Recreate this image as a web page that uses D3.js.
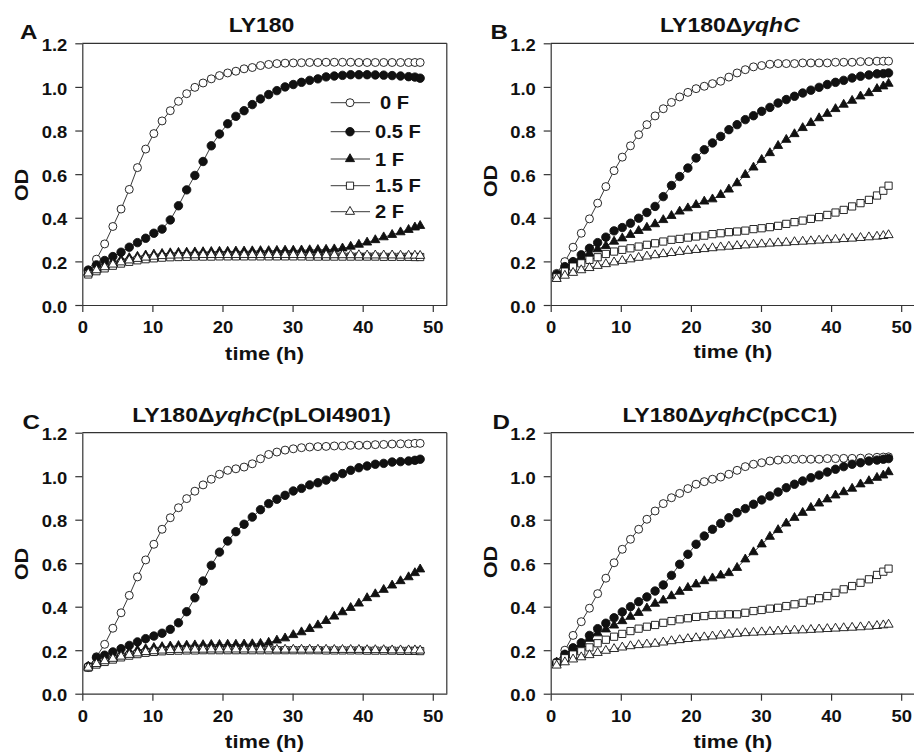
<!DOCTYPE html>
<html>
<head>
<meta charset="utf-8">
<script src="https://cdn.jsdelivr.net/npm/d3@7"></script>
<style>
body { margin: 0; background: #fff; }
text { font-family: "Liberation Sans", Arial, sans-serif; font-weight: bold; fill: #111; }
</style>
</head>
<body>
<svg width="914" height="756"></svg>
<script>
var WIDTH = 914;
var HEIGHT = 756;

// sampling times (h), same for every panel
var times = [0.85, 2.02, 3.19, 4.36, 5.53, 6.7, 7.87, 9.04, 10.21, 11.38,
	12.55, 13.72, 14.89, 16.06, 17.23, 18.4, 19.57, 20.74, 21.91, 23.08,
	24.25, 25.42, 26.59, 27.76, 28.93, 30.1, 31.27, 32.44, 33.61, 34.78,
	35.95, 37.12, 38.29, 39.46, 40.63, 41.8, 43.0, 44.2, 45.4, 46.55,
	47.45, 48.2];

var seriesNames = ['0 F', '0.5 F', '1 F', '1.5 F', '2 F'];
var xTicks = [0, 10, 20, 30, 40, 50];
var yTicks = [0, 0.2, 0.4, 0.6, 0.8, 1.0, 1.2];

// A: LY180
var A_0F = [0.16, 0.21, 0.28, 0.36, 0.44, 0.53, 0.63, 0.715, 0.786, 0.844, 0.891, 0.934, 0.969, 0.998, 1.018, 1.037, 1.052, 1.064, 1.072, 1.083, 1.089, 1.098, 1.103, 1.107, 1.109, 1.110, 1.111, 1.112, 1.112, 1.113, 1.113, 1.113, 1.113, 1.112, 1.112, 1.112, 1.112, 1.112, 1.112, 1.112, 1.112, 1.112];
var A_05F = [0.16, 0.184, 0.204, 0.222, 0.242, 0.265, 0.286, 0.306, 0.329, 0.348, 0.39, 0.455, 0.528, 0.594, 0.658, 0.73, 0.784, 0.831, 0.865, 0.891, 0.919, 0.945, 0.965, 0.983, 1.0, 1.011, 1.021, 1.03, 1.037, 1.046, 1.05, 1.053, 1.056, 1.056, 1.056, 1.055, 1.054, 1.052, 1.05, 1.047, 1.045, 1.04];
var A_1F = [0.15, 0.17, 0.186, 0.198, 0.208, 0.216, 0.222, 0.228, 0.232, 0.235, 0.238, 0.24, 0.241, 0.242, 0.243, 0.244, 0.245, 0.245, 0.246, 0.246, 0.247, 0.248, 0.248, 0.249, 0.25, 0.25, 0.251, 0.252, 0.253, 0.254, 0.256, 0.26, 0.268, 0.277, 0.287, 0.298, 0.311, 0.322, 0.334, 0.345, 0.356, 0.363];
var A_15F = [0.14, 0.155, 0.168, 0.18, 0.19, 0.198, 0.205, 0.21, 0.214, 0.217, 0.219, 0.22, 0.221, 0.222, 0.222, 0.222, 0.223, 0.223, 0.223, 0.223, 0.223, 0.223, 0.223, 0.223, 0.223, 0.223, 0.223, 0.222, 0.222, 0.222, 0.222, 0.222, 0.222, 0.222, 0.222, 0.222, 0.221, 0.221, 0.221, 0.221, 0.22, 0.22];
var A_2F = [0.145, 0.16, 0.174, 0.186, 0.196, 0.205, 0.212, 0.218, 0.222, 0.225, 0.227, 0.228, 0.229, 0.229, 0.23, 0.23, 0.23, 0.23, 0.23, 0.23, 0.23, 0.23, 0.23, 0.23, 0.23, 0.23, 0.23, 0.229, 0.229, 0.229, 0.229, 0.229, 0.229, 0.229, 0.228, 0.228, 0.228, 0.228, 0.227, 0.227, 0.227, 0.226];

// B: LY180 delta yqhC
var B_0F = [0.145, 0.199, 0.265, 0.329, 0.395, 0.467, 0.543, 0.616, 0.678, 0.73, 0.781, 0.827, 0.867, 0.9, 0.929, 0.954, 0.975, 0.992, 1.003, 1.015, 1.026, 1.045, 1.064, 1.079, 1.092, 1.098, 1.104, 1.107, 1.107, 1.107, 1.11, 1.11, 1.11, 1.11, 1.113, 1.113, 1.113, 1.116, 1.116, 1.118, 1.118, 1.118];
var B_05F = [0.14, 0.176, 0.199, 0.23, 0.26, 0.286, 0.311, 0.34, 0.355, 0.375, 0.398, 0.424, 0.452, 0.497, 0.548, 0.589, 0.628, 0.674, 0.712, 0.743, 0.773, 0.804, 0.827, 0.85, 0.868, 0.888, 0.906, 0.926, 0.942, 0.957, 0.972, 0.985, 0.998, 1.011, 1.021, 1.03, 1.041, 1.049, 1.055, 1.06, 1.061, 1.064];
var B_1F = [0.135, 0.161, 0.194, 0.218, 0.237, 0.256, 0.271, 0.291, 0.306, 0.322, 0.34, 0.355, 0.371, 0.39, 0.409, 0.429, 0.444, 0.459, 0.475, 0.485, 0.505, 0.53, 0.559, 0.597, 0.631, 0.666, 0.697, 0.73, 0.758, 0.784, 0.812, 0.835, 0.857, 0.877, 0.899, 0.919, 0.937, 0.957, 0.972, 0.991, 1.003, 1.015];
var B_15F = [0.127, 0.153, 0.176, 0.191, 0.207, 0.219, 0.234, 0.245, 0.253, 0.26, 0.268, 0.276, 0.283, 0.291, 0.299, 0.303, 0.309, 0.314, 0.318, 0.325, 0.329, 0.334, 0.337, 0.341, 0.348, 0.352, 0.357, 0.363, 0.372, 0.38, 0.387, 0.395, 0.403, 0.413, 0.424, 0.436, 0.452, 0.467, 0.482, 0.502, 0.524, 0.547];
var B_2F = [0.12, 0.135, 0.148, 0.16, 0.17, 0.18, 0.188, 0.196, 0.203, 0.21, 0.217, 0.223, 0.229, 0.234, 0.239, 0.244, 0.249, 0.253, 0.257, 0.261, 0.265, 0.268, 0.271, 0.274, 0.277, 0.279, 0.282, 0.284, 0.286, 0.289, 0.291, 0.293, 0.296, 0.298, 0.3, 0.303, 0.305, 0.308, 0.311, 0.314, 0.317, 0.321];

// C: LY180 delta yqhC (pLOI4901)
var C_0F = [0.12, 0.17, 0.227, 0.301, 0.372, 0.452, 0.537, 0.615, 0.687, 0.756, 0.809, 0.855, 0.897, 0.931, 0.96, 0.986, 1.009, 1.027, 1.034, 1.042, 1.057, 1.08, 1.1, 1.111, 1.12, 1.126, 1.131, 1.134, 1.136, 1.137, 1.139, 1.139, 1.142, 1.142, 1.143, 1.145, 1.146, 1.148, 1.149, 1.149, 1.151, 1.151];
var C_05F = [0.125, 0.166, 0.177, 0.192, 0.207, 0.222, 0.238, 0.253, 0.265, 0.278, 0.296, 0.326, 0.377, 0.441, 0.518, 0.59, 0.651, 0.702, 0.745, 0.779, 0.812, 0.846, 0.874, 0.894, 0.912, 0.932, 0.944, 0.96, 0.97, 0.982, 0.996, 1.012, 1.027, 1.039, 1.047, 1.055, 1.059, 1.065, 1.067, 1.07, 1.073, 1.078];
var C_1F = [0.125, 0.145, 0.16, 0.172, 0.183, 0.192, 0.2, 0.206, 0.211, 0.215, 0.218, 0.22, 0.222, 0.223, 0.224, 0.225, 0.225, 0.226, 0.226, 0.227, 0.228, 0.23, 0.235, 0.245, 0.255, 0.27, 0.283, 0.298, 0.315, 0.335, 0.355, 0.375, 0.395, 0.415, 0.44, 0.458, 0.478, 0.498, 0.518, 0.536, 0.555, 0.572];
var C_15F = [0.12, 0.134, 0.146, 0.157, 0.167, 0.175, 0.182, 0.188, 0.192, 0.195, 0.197, 0.198, 0.199, 0.199, 0.2, 0.2, 0.2, 0.2, 0.2, 0.2, 0.2, 0.2, 0.2, 0.2, 0.2, 0.2, 0.2, 0.2, 0.2, 0.199, 0.199, 0.199, 0.199, 0.199, 0.198, 0.198, 0.198, 0.198, 0.197, 0.197, 0.197, 0.196];
var C_2F = [0.12, 0.137, 0.15, 0.161, 0.171, 0.179, 0.186, 0.192, 0.196, 0.199, 0.201, 0.202, 0.203, 0.203, 0.203, 0.204, 0.204, 0.204, 0.204, 0.204, 0.204, 0.204, 0.204, 0.203, 0.203, 0.203, 0.203, 0.203, 0.203, 0.203, 0.202, 0.202, 0.202, 0.202, 0.201, 0.201, 0.201, 0.2, 0.2, 0.2, 0.2, 0.199];

// D: LY180 delta yqhC (pCC1)
var D_0F = [0.146, 0.2, 0.268, 0.331, 0.393, 0.46, 0.531, 0.602, 0.664, 0.71, 0.756, 0.802, 0.84, 0.874, 0.901, 0.921, 0.943, 0.963, 0.975, 0.986, 0.996, 1.009, 1.027, 1.044, 1.055, 1.062, 1.07, 1.074, 1.078, 1.078, 1.078, 1.078, 1.078, 1.081, 1.081, 1.082, 1.082, 1.083, 1.085, 1.087, 1.088, 1.089];
var D_05F = [0.14, 0.181, 0.211, 0.234, 0.268, 0.299, 0.324, 0.349, 0.376, 0.4, 0.423, 0.445, 0.472, 0.5, 0.544, 0.595, 0.641, 0.687, 0.725, 0.756, 0.783, 0.809, 0.832, 0.851, 0.871, 0.891, 0.909, 0.927, 0.947, 0.963, 0.978, 0.993, 1.005, 1.019, 1.032, 1.044, 1.055, 1.062, 1.07, 1.074, 1.078, 1.081];
var D_1F = [0.143, 0.177, 0.204, 0.227, 0.253, 0.278, 0.296, 0.314, 0.334, 0.354, 0.372, 0.393, 0.414, 0.429, 0.449, 0.469, 0.487, 0.503, 0.518, 0.531, 0.544, 0.555, 0.579, 0.618, 0.651, 0.687, 0.722, 0.753, 0.783, 0.809, 0.832, 0.855, 0.875, 0.894, 0.912, 0.927, 0.943, 0.963, 0.978, 0.993, 1.004, 1.019];
var D_15F = [0.14, 0.163, 0.18, 0.195, 0.213, 0.232, 0.248, 0.262, 0.275, 0.288, 0.299, 0.308, 0.316, 0.326, 0.334, 0.342, 0.347, 0.353, 0.357, 0.362, 0.363, 0.365, 0.365, 0.372, 0.38, 0.385, 0.391, 0.395, 0.403, 0.411, 0.418, 0.429, 0.439, 0.449, 0.464, 0.48, 0.495, 0.51, 0.526, 0.546, 0.561, 0.575];
var D_2F = [0.13, 0.145, 0.158, 0.168, 0.178, 0.188, 0.198, 0.206, 0.213, 0.219, 0.224, 0.227, 0.23, 0.236, 0.242, 0.247, 0.252, 0.256, 0.26, 0.264, 0.268, 0.272, 0.276, 0.279, 0.281, 0.283, 0.285, 0.287, 0.289, 0.291, 0.292, 0.294, 0.296, 0.298, 0.3, 0.302, 0.304, 0.306, 0.309, 0.312, 0.315, 0.318];

// marker style for each series (same order as seriesNames)
var markers = [
	{type: d3.symbolCircle, size: 50, fill: '#fff'},
	{type: d3.symbolCircle, size: 56, fill: '#111'},
	{type: d3.symbolTriangle, size: 36, fill: '#111'},
	{type: d3.symbolSquare, size: 52, fill: '#fff'},
	{type: d3.symbolTriangle, size: 36, fill: '#fff'}
];

// layout of the four panels
var panels = [
	{letter: 'A', title: ['LY180'], data: [A_0F, A_05F, A_1F, A_15F, A_2F],
		left: 82.3, top: 43.3, bottom: 305, letterPos: [20, 39], odY: 185, xlabBase: 360, legend: true},
	{letter: 'B', title: ['LY180\u0394', 'yqhC', ''], data: [B_0F, B_05F, B_1F, B_15F, B_2F],
		left: 550.7, top: 43.3, bottom: 305, letterPos: [490.5, 38.5], odY: 181, xlabBase: 358},
	{letter: 'C', title: ['LY180\u0394', 'yqhC', '(pLOI4901)'], data: [C_0F, C_05F, C_1F, C_15F, C_2F],
		left: 82.3, top: 432.7, bottom: 693.7, letterPos: [22.5, 429], odY: 564, xlabBase: 748},
	{letter: 'D', title: ['LY180\u0394', 'yqhC', '(pCC1)'], data: [D_0F, D_05F, D_1F, D_15F, D_2F],
		left: 550.7, top: 432.7, bottom: 693.7, letterPos: [492.5, 429], odY: 562, xlabBase: 748}
];

var PLOT_W = 364.5; // 0..52 h
var STRETCH = 'scale(1.15,1)';
var LINE_COLOR = '#333';

var svg = d3.select('svg')
	.attr('width', WIDTH)
	.attr('height', HEIGHT);

var addText = function(parent, x, y, str, size, anchor, rotate){
	return parent.append('text')
		.attr('transform', 'translate(' + x + ',' + y + ')' + (rotate ? ' rotate(-90)' : '') + ' ' + STRETCH)
		.attr('text-anchor', anchor)
		.style('font-size', size + 'px')
		.text(str);
};

panels.forEach(function(p){
	var g = svg.append('g');
	var x = d3.scaleLinear().domain([0, 52]).range([p.left, p.left + PLOT_W]);
	var y = d3.scaleLinear().domain([0, 1.2]).range([p.bottom, p.top]);

	// top and right frame lines
	g.append('line')
		.attr('x1', x(0)).attr('x2', x(52)).attr('y1', y(1.2)).attr('y2', y(1.2))
		.attr('stroke', LINE_COLOR).attr('stroke-width', 1.2);
	g.append('line')
		.attr('x1', x(52)).attr('x2', x(52)).attr('y1', y(1.2)).attr('y2', y(0))
		.attr('stroke', LINE_COLOR).attr('stroke-width', 1.2);

	var leftAxis = d3.axisLeft(y).tickValues(yTicks).tickFormat(d3.format('.1f')).tickSize(7).tickSizeOuter(0);
	var bottomAxis = d3.axisBottom(x).tickValues(xTicks).tickSize(7).tickSizeOuter(0);

	var ya = g.append('g')
		.attr('transform', 'translate(' + p.left + ',0)')
		.call(leftAxis)
		.attr('font-family', null).attr('font-size', null);
	ya.selectAll('text')
		.attr('x', -13).attr('dy', '0.45em')
		.attr('transform', STRETCH)
		.style('font-size', '16px');

	var xa = g.append('g')
		.attr('transform', 'translate(0,' + p.bottom + ')')
		.call(bottomAxis)
		.attr('font-family', null).attr('font-size', null);
	xa.selectAll('text')
		.attr('y', 17).attr('dy', '0.71em')
		.attr('transform', STRETCH)
		.style('font-size', '16px');

	[ya, xa].forEach(function(a){
		a.select('.domain').attr('stroke', LINE_COLOR).attr('stroke-width', 1.2);
		a.selectAll('.tick line').attr('stroke', LINE_COLOR).attr('stroke-width', 1.2);
	});

	// series: line then markers, one after the other
	var line = d3.line()
		.x(function(d, i){ return x(times[i]); })
		.y(function(d){ return y(d); });

	p.data.forEach(function(values, s){
		var sg = g.append('g');
		sg.append('path')
			.attr('d', line(values))
			.attr('fill', 'none')
			.attr('stroke', '#222')
			.attr('stroke-width', 0.9);
		var sym = d3.symbol().type(markers[s].type).size(markers[s].size);
		sg.selectAll('path.m')
			.data(values)
			.enter()
			.append('path')
			.attr('class', 'm')
			.attr('d', sym)
			.attr('transform', function(d, i){ return 'translate(' + x(times[i]) + ',' + y(d) + ')'; })
			.attr('fill', markers[s].fill)
			.attr('stroke', '#111')
			.attr('stroke-width', 0.9);
	});

	// title with italic gene name
	var cx = (x(0) + x(52)) / 2 - 3;
	var t = g.append('text')
		.attr('transform', 'translate(' + cx + ',' + (p.top - 11) + ') ' + STRETCH)
		.attr('text-anchor', 'middle')
		.style('font-size', '20px');
	t.append('tspan').text(p.title[0]);
	if(p.title.length > 1){
		t.append('tspan').style('font-style', 'italic').text(p.title[1]);
		t.append('tspan').text(p.title[2]);
	}

	addText(g, p.letterPos[0], p.letterPos[1], p.letter, 21, 'start');
	addText(g, p.left - 54, p.odY, 'OD', 19, 'middle', true);
	addText(g, cx + 3, p.xlabBase, 'time (h)', 19, 'middle');

	if(p.legend){
		var lg = g.append('g');
		seriesNames.forEach(function(name, s){
			var ly = [102.7, 131.7, 159, 185.7, 211.7][s];
			lg.append('line')
				.attr('x1', 330.7).attr('x2', 370).attr('y1', ly).attr('y2', ly)
				.attr('stroke', '#222').attr('stroke-width', 0.9);
			lg.append('path')
				.attr('d', d3.symbol().type(markers[s].type).size(markers[s].size))
				.attr('transform', 'translate(350,' + ly + ')')
				.attr('fill', markers[s].fill)
				.attr('stroke', '#111')
				.attr('stroke-width', 0.9);
			addText(lg, name === '0 F' ? 380 : 375, ly + 6.5, name, 17.5, 'start');
		});
	}
});
</script>
</body>
</html>
